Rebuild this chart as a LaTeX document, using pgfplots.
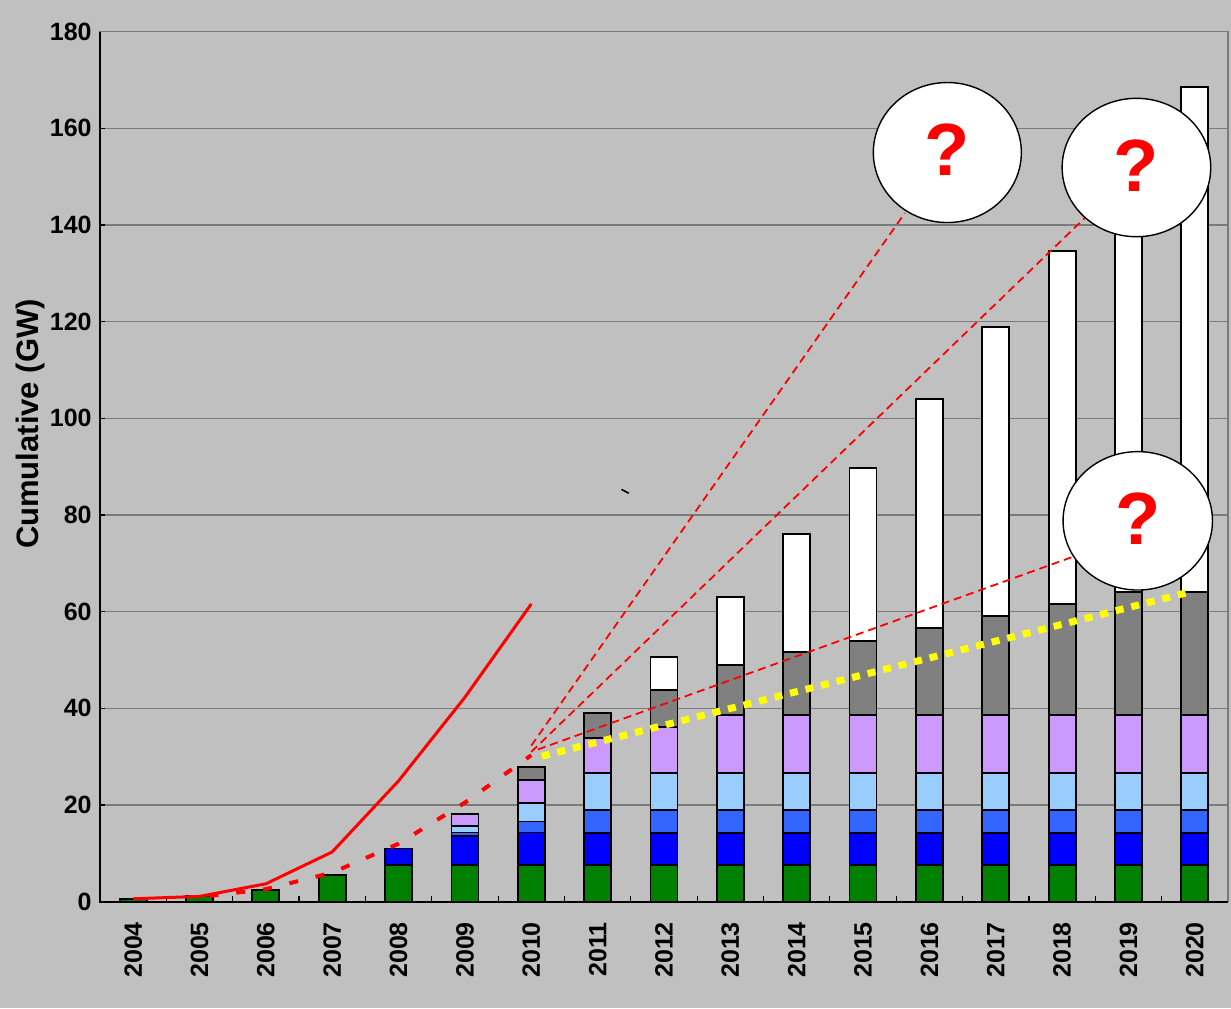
\documentclass[border=0pt]{standalone}
\usepackage{fontspec}
\setmainfont{Liberation Sans}
\usepackage{pgfplots}
\pgfplotsset{compat=1.18}
\definecolor{bg}{HTML}{C0C0C0}
\definecolor{gridc}{HTML}{7A7A7A}
\definecolor{cgreen}{HTML}{008000}
\definecolor{cblue}{HTML}{0000FF}
\definecolor{cmed}{HTML}{3366FF}
\definecolor{clight}{HTML}{99CCFF}
\definecolor{clav}{HTML}{CC99FF}
\definecolor{cgrey}{HTML}{808080}
\definecolor{cyel}{HTML}{FFFF00}
\pgfplotsset{common/.style={scale only axis, width=564pt, height=435pt,
  xmin=-0.5, xmax=16.5, ymin=0, ymax=180, at={(0,0)}, anchor=south west}}
\begin{document}
\begin{tikzpicture}
\fill[bg] (-50pt,-53.15pt) rectangle (565.5pt,450.85pt);
\begin{axis}[common, ybar stacked, bar width=13.5pt,
  axis line style={gridc, line width=0.7pt},
  ytick={0,20,...,180},
  ymajorgrids, grid style={gridc, line width=0.6pt},
  major tick length=2.5pt, tick align=inside, tick pos=left,
  ytick style={black, line width=0.7pt},
  xtick style={draw=none},
  xtick={0,...,16},
  xticklabels={2004,2005,2006,2007,2008,2009,2010,2011,2012,2013,2014,2015,2016,2017,2018,2019,2020},
  xticklabel style={rotate=90, anchor=east, inner sep=0pt, font=\bfseries\fontsize{12.5}{14}\selectfont},
  xticklabel shift=10pt,
  yticklabel style={anchor=east, inner sep=0pt, font=\bfseries\fontsize{12.5}{14}\selectfont},
  yticklabel shift=4pt,
  /pgf/number format/assume math mode=true,
  ylabel={Cumulative (GW)},
  ylabel style={at={(axis description cs:-0.062,0.549)}, anchor=center, font=\bfseries\fontsize{15.5}{17}\selectfont},
  every axis plot/.append style={draw=black, line width=0.9pt},
]
\addplot[fill=cgreen] coordinates {(0,0.6)(1,1.2)(2,2.4)(3,5.6)(4,7.6)(5,7.6)(6,7.6)(7,7.6)(8,7.6)(9,7.6)(10,7.6)(11,7.6)(12,7.6)(13,7.6)(14,7.6)(15,7.6)(16,7.6)};
\addplot[fill=cblue] coordinates {(0,0)(1,0)(2,0)(3,0)(4,3.4)(5,6.0)(6,6.7)(7,6.6)(8,6.6)(9,6.6)(10,6.6)(11,6.6)(12,6.6)(13,6.6)(14,6.6)(15,6.6)(16,6.6)};
\addplot[fill=cmed] coordinates {(0,0)(1,0)(2,0)(3,0)(4,0)(5,0.7)(6,2.3)(7,4.8)(8,4.8)(9,4.8)(10,4.8)(11,4.8)(12,4.8)(13,4.8)(14,4.8)(15,4.8)(16,4.8)};
\addplot[fill=clight] coordinates {(0,0)(1,0)(2,0)(3,0)(4,0)(5,1.4)(6,3.9)(7,7.6)(8,7.6)(9,7.6)(10,7.6)(11,7.6)(12,7.6)(13,7.6)(14,7.6)(15,7.6)(16,7.6)};
\addplot[fill=clav] coordinates {(0,0)(1,0)(2,0)(3,0)(4,0)(5,2.5)(6,4.7)(7,7.2)(8,9.6)(9,12.0)(10,12.0)(11,12.0)(12,12.0)(13,12.0)(14,12.0)(15,12.0)(16,12.0)};
\addplot[fill=cgrey] coordinates {(0,0)(1,0)(2,0)(3,0)(4,0)(5,0)(6,2.6)(7,5.2)(8,7.6)(9,10.4)(10,13.1)(11,15.4)(12,18.0)(13,20.5)(14,23.0)(15,25.4)(16,25.4)};
\addplot[fill=white] coordinates {(0,0)(1,0)(2,0)(3,0)(4,0)(5,0)(6,0)(7,0)(8,6.9)(9,14.0)(10,24.4)(11,35.7)(12,47.4)(13,59.8)(14,73.0)(15,87.5)(16,104.6)};
\end{axis}
\begin{axis}[common, clip=false, axis line style={draw=none},
  xtick={0.5,1.5,...,15.5}, xticklabels={}, ytick=\empty,
  major tick length=3pt, tick align=inside, tick pos=left,
  xtick style={black, line width=0.6pt}]
\draw[black, line width=1pt] (rel axis cs:0,1) -- (rel axis cs:0,0) -- (rel axis cs:1,0);
\addplot[red, line width=1.5pt, mark=none] coordinates {(0,0.6)(1,1.1)(2,3.7)(3,10.3)(4,25.0)(5,42.3)(6,61.6)};
\addplot[red, line width=2pt, mark=none, dash pattern=on 4.5pt off 9pt] coordinates {(1.15,1.2)(2,2.6)(3,6.0)(4,12.0)(5,20.5)(6,30.3)};
\addplot[red, line width=0.9pt, mark=none, dash pattern=on 4pt off 2.5pt] coordinates {(6.0,32.3)(11.63,142.5)};
\addplot[red, line width=0.9pt, mark=none, dash pattern=on 4pt off 2.5pt] coordinates {(6.0,31.0)(14.42,142.5)};
\addplot[red, line width=0.9pt, mark=none, dash pattern=on 4pt off 2.5pt] coordinates {(6.1,31.5)(14.19,71.5)};
\addplot[cyel, line width=3.5pt, mark=none, dash pattern=on 4pt off 4pt] coordinates {(6.16,30.1)(15.93,64.1)};
\draw[black, line width=0.8pt] (axis cs:7.36,85.3) -- (axis cs:7.47,84.5);
\draw[black, line width=0.7pt, fill=white] (axis cs:12.27,155.0) ellipse [x radius=37pt, y radius=35pt];
\draw[black, line width=0.7pt, fill=white] (axis cs:15.12,151.9) ellipse [x radius=37.15pt, y radius=34.6pt];
\draw[black, line width=0.7pt, fill=white] (axis cs:15.14,78.8) ellipse [x radius=37.35pt, y radius=34.6pt];
\node[text=red, font=\bfseries\fontsize{37}{40}\selectfont] at (axis cs:12.27,155.5) {?};
\node[text=red, font=\bfseries\fontsize{37}{40}\selectfont] at (axis cs:15.12,152.3) {?};
\node[text=red, font=\bfseries\fontsize{37}{40}\selectfont] at (axis cs:15.14,79.2) {?};
\end{axis}
\pgfresetboundingbox
\useasboundingbox (-50pt,-53.15pt) rectangle (565.5pt,450.85pt);
\end{tikzpicture}
\end{document}
